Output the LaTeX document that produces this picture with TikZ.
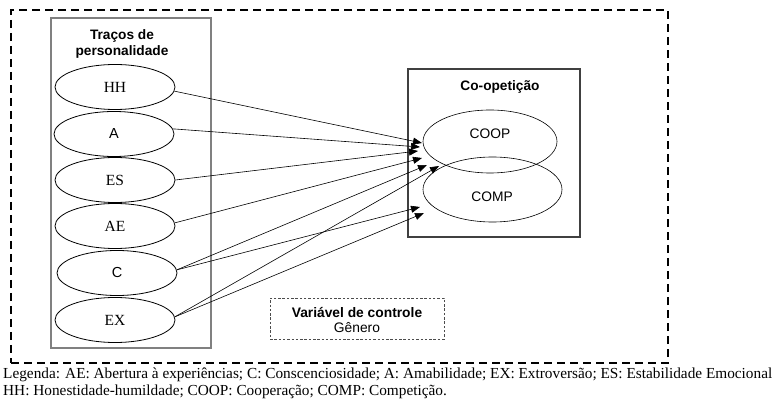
\documentclass[tikz,border=0pt]{standalone}
\usepackage{fontspec}
\setmainfont{Liberation Serif}
\setsansfont{Liberation Sans}
\usetikzlibrary{arrows.meta,shapes.geometric}
\tikzset{
  oval/.style={ellipse, draw, line width=0.8pt, minimum width=120pt, minimum height=45pt, inner sep=0pt},
  bigoval/.style={ellipse, draw, line width=0.6pt, inner sep=0pt},
  serlab/.style={font=\fontsize{15.5}{17}\selectfont},
  sanlab/.style={font=\sffamily\fontsize{14.5}{17}\selectfont},
  outlab/.style={font=\sffamily\fontsize{13.8}{17}\selectfont, inner sep=0pt},
  conn/.style={line width=0.6pt, -{Triangle[length=9pt,width=7pt]}},
  titletext/.style={font=\sffamily\bfseries\fontsize{13.7}{16}\selectfont, align=center, inner sep=0pt},
  legendtext/.style={font=\fontsize{15.3}{17}\selectfont, anchor=base west, inner sep=0pt},
}
\begin{document}
\begin{tikzpicture}[x=1pt,y=-1pt]
\useasboundingbox (0,0) rectangle (781,403);
% outer dashed frame
\node[draw, line width=1.4pt, dash pattern=on 8pt off 5pt, minimum width=657pt, minimum height=353pt, inner sep=0pt] (outer) at (339.5,186.5) {};
% personality box
\node[draw=black!50, line width=1.1pt, minimum width=160pt, minimum height=330pt, inner sep=0pt] (pbox) at (131,183) {};
\node[titletext] (ptitle) at (122,44) {Traços de\\personalidade};
% co-opetition box
\node[draw=black!75, line width=1.2pt, minimum width=172pt, minimum height=168pt, inner sep=0pt] (cbox) at (494,153) {};
\node[titletext] (ctitle) at (500,87) {Co-opetição};
% control box
\node[draw=black!70, line width=0.8pt, dash pattern=on 2.5pt off 1.8pt, minimum width=174pt, minimum height=41pt, inner sep=0pt] (ctrl) at (357,318.5) {};
\node[align=center, inner sep=0pt, font=\sffamily\fontsize{13.8}{15}\selectfont] (ctrltext) at (357,320) {\textbf{Variável de controle}\\Gênero};
% trait ellipses
\node[oval, serlab] (hh) at (115,87) {HH};
\node[oval, sanlab] (a) at (114,134) {A};
\node[oval, serlab] (es) at (115,180) {ES};
\node[oval, serlab] (ae) at (115,226) {AE};
\node[oval, sanlab] (c) at (117,273) {C};
\node[oval, serlab] (ex) at (115,320) {EX};
% outcome ellipses
\node[bigoval, minimum width=134pt, minimum height=63pt] (coop) at (490,141.5) {};
\node[bigoval, minimum width=139pt, minimum height=65pt] (comp) at (492.5,189.5) {};
\node[outlab] (cooplab) at (490,134) {COOP};
\node[outlab] (complab) at (492,197) {COMP};
% arrow tips
\coordinate (t1) at (422,143);
\coordinate (t2) at (420,147);
\coordinate (t3) at (418,151);
\coordinate (t4) at (422,158);
\coordinate (t5) at (427,165);
\coordinate (t6) at (439,166);
\coordinate (t7) at (420,207);
\coordinate (t8) at (424,213);
\draw[conn] (hh.-4) -- (t1);
\draw[conn] (a.5) -- (t2);
\draw[conn] (es.0) -- (t3);
\draw[conn] (ae.3) -- (t4);
\draw[conn] (c.3) -- (t5);
\draw[conn] (ex.3) -- (t6);
\draw[conn] (c.3) -- (t7);
\draw[conn] (ex.3) -- (t8);
% legend
\node[legendtext] (leg1) at (3,378) {Legenda: AE: Abertura à experiências; C: Conscenciosidade; A: Amabilidade; EX: Extroversão; ES: Estabilidade Emocional};
\node[legendtext] (leg2) at (3,395) {HH: Honestidade-humildade; COOP: Cooperação; COMP: Competição.};
\end{tikzpicture}
\end{document}
